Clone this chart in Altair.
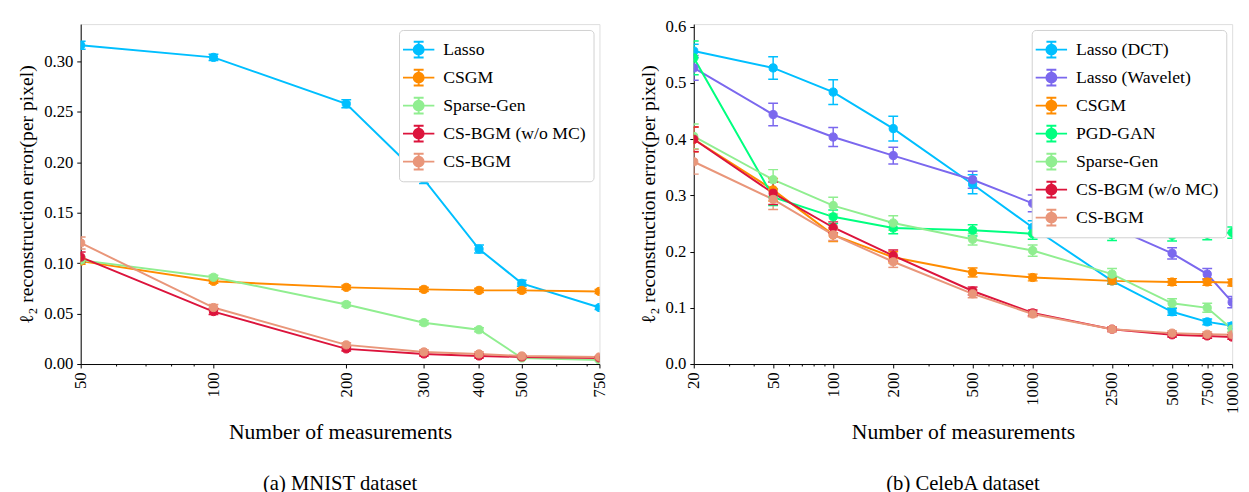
import altair as alt
import pandas as pd

FONT = "Liberation Serif"

# ---------------- MNIST (left) ----------------
mnist_m = [50, 100, 200, 300, 400, 500, 750]
mnist_series = ["Lasso", "CSGM", "Sparse-Gen", "CS-BGM (w/o MC)", "CS-BGM"]
mnist_colors = ["#00bfff", "#ff8c00", "#90ee90", "#dc143c", "#e9967a"]
mnist_lasso = [0.316, 0.304, 0.258, 0.183, 0.114, 0.080, 0.056]
mnist_lasso_err = [0.004, 0.003, 0.004, 0.004, 0.004, 0.003, 0.002]
mnist_csgm = [0.102, 0.082, 0.076, 0.074, 0.073, 0.073, 0.072]
mnist_csgm_err = [0.003, 0.002, 0.002, 0.002, 0.002, 0.002, 0.002]
mnist_sparse = [0.103, 0.086, 0.059, 0.041, 0.034, 0.006, 0.004]
mnist_sparse_err = [0.003, 0.002, 0.002, 0.002, 0.002, 0.001, 0.001]
mnist_bgm_womc = [0.106, 0.052, 0.015, 0.010, 0.008, 0.007, 0.006]
mnist_bgm_womc_err = [0.005, 0.003, 0.002, 0.002, 0.002, 0.001, 0.001]
mnist_bgm = [0.120, 0.056, 0.019, 0.012, 0.010, 0.008, 0.007]
mnist_bgm_err = [0.006, 0.003, 0.002, 0.002, 0.002, 0.001, 0.001]
mnist_xticks = [50, 100, 200, 300, 400, 500, 750]
mnist_minor = [60, 70, 80, 90, 600, 700]
mnist_yticks = [0.0, 0.05, 0.10, 0.15, 0.20, 0.25, 0.30]

# ---------------- CelebA (right) ----------------
celeba_m = [20, 50, 100, 200, 500, 1000, 2500, 5000, 7500, 10000]
celeba_series = ["Lasso (DCT)", "Lasso (Wavelet)", "CSGM", "PGD-GAN",
                 "Sparse-Gen", "CS-BGM (w/o MC)", "CS-BGM"]
celeba_colors = ["#00bfff", "#7b68ee", "#ff8c00", "#00ff7f",
                 "#90ee90", "#dc143c", "#e9967a"]
celeba_dct = [0.557, 0.527, 0.484, 0.419, 0.320, 0.243, 0.148, 0.093, 0.075, 0.068]
celeba_dct_err = [0.012, 0.020, 0.022, 0.022, 0.017, 0.012, 0.006, 0.006, 0.005, 0.005]
celeba_wav = [0.527, 0.444, 0.404, 0.371, 0.328, 0.286, 0.244, 0.197, 0.160, 0.110]
celeba_wav_err = [0.022, 0.020, 0.017, 0.015, 0.015, 0.015, 0.012, 0.010, 0.010, 0.010]
celeba_csgm = [0.400, 0.310, 0.230, 0.190, 0.163, 0.154, 0.148, 0.146, 0.146, 0.145]
celeba_csgm_err = [0.022, 0.020, 0.012, 0.010, 0.008, 0.006, 0.005, 0.006, 0.006, 0.006]
celeba_pgd = [0.545, 0.297, 0.262, 0.242, 0.238, 0.232, 0.230, 0.229, 0.231, 0.234]
celeba_pgd_err = [0.030, 0.015, 0.012, 0.010, 0.010, 0.010, 0.010, 0.010, 0.010, 0.010]
celeba_sparse = [0.405, 0.328, 0.282, 0.251, 0.222, 0.202, 0.160, 0.108, 0.100, 0.062]
celeba_sparse_err = [0.022, 0.018, 0.015, 0.013, 0.010, 0.010, 0.010, 0.008, 0.008, 0.005]
celeba_bgm_womc = [0.400, 0.304, 0.243, 0.193, 0.130, 0.091, 0.062, 0.052, 0.050, 0.048]
celeba_bgm_womc_err = [0.022, 0.020, 0.010, 0.010, 0.007, 0.005, 0.004, 0.004, 0.004, 0.004]
celeba_bgm = [0.360, 0.293, 0.230, 0.182, 0.125, 0.089, 0.062, 0.055, 0.053, 0.052]
celeba_bgm_err = [0.022, 0.018, 0.010, 0.010, 0.007, 0.005, 0.004, 0.004, 0.004, 0.004]
celeba_xticks = [20, 50, 100, 200, 500, 1000, 2500, 5000, 7500, 10000]
celeba_minor = [30, 40, 60, 70, 80, 90, 300, 400, 600, 700, 800, 900,
                2000, 3000, 4000, 6000, 7000, 8000, 9000]
celeba_yticks = [0.0, 0.1, 0.2, 0.3, 0.4, 0.5, 0.6]


def frame(ms, names, vals, errs):
    rows = []
    for name, v, e in zip(names, vals, errs):
        for m, y, d in zip(ms, v, e):
            rows.append({"m": m, "value": y, "lo": y - d, "hi": y + d,
                         "series": name})
    return pd.DataFrame(rows)


mnist_df = frame(mnist_m, mnist_series,
                 [mnist_lasso, mnist_csgm, mnist_sparse, mnist_bgm_womc, mnist_bgm],
                 [mnist_lasso_err, mnist_csgm_err, mnist_sparse_err,
                  mnist_bgm_womc_err, mnist_bgm_err])
celeba_df = frame(celeba_m, celeba_series,
                  [celeba_dct, celeba_wav, celeba_csgm, celeba_pgd, celeba_sparse,
                   celeba_bgm_womc, celeba_bgm],
                  [celeba_dct_err, celeba_wav_err, celeba_csgm_err, celeba_pgd_err,
                   celeba_sparse_err, celeba_bgm_womc_err, celeba_bgm_err])

LEG_PATH = ("M-1.33,0H1.33M0,-0.67V0.67M-0.42,-0.67H0.42M-0.42,0.67H0.42"
            "M-0.42,0A0.42,0.42,0,1,0,0.42,0A0.42,0.42,0,1,0,-0.42,0Z")


def panel(df, names, colors, xdom, xticks, minor, ydom, yticks, yfmt,
          width, height, caption):
    legend = alt.Legend(
        title=None, orient="top-right", offset=6,
        symbolType=LEG_PATH, symbolSize=576, symbolStrokeWidth=2,
        symbolFillColor="white",
        labelFont=FONT, labelFontSize=18, labelColor="black", labelOffset=12,
        rowPadding=2.5, padding=7, strokeColor="#d0d0d0", fillColor="white",
        cornerRadius=4, labelLimit=300,
    )
    sc = alt.Scale(domain=names, range=colors)
    stroke = alt.Stroke("series:N", scale=sc, legend=legend, sort=names)
    fill = alt.Fill("series:N", scale=sc, legend=legend, sort=names)
    xs = alt.Scale(type="log", domain=xdom, nice=False)
    ys = alt.Scale(domain=ydom, nice=False, zero=False)
    xaxis = alt.Axis(values=xticks, format="d", labelAngle=270, labelFont=FONT,
                     labelFontSize=17, labelColor="black", labelPadding=4,
                     labelFlush=False, labelOverlap=False, labelBound=False,
                     tickSize=4, tickColor="black", tickWidth=1,
                     domainColor="black", grid=False,
                     title="Number of measurements", titleFont=FONT,
                     titleFontSize=22, titleFontWeight="normal",
                     titleColor="black", titleY=59)
    yaxis = alt.Axis(values=yticks, format=yfmt, labelFont=FONT,
                     labelFontSize=17, labelColor="black", labelPadding=4,
                     tickSize=4, tickColor="black", domainColor="black",
                     grid=False, labelFlush=False,
                     title="ℓ₂ reconstruction error(per pixel)", titleFont=FONT,
                     titleFontSize=20, titleFontWeight="normal",
                     titleColor="black", titlePadding=7)
    minor_axis = alt.Axis(values=minor, labels=False, tickSize=2,
                          tickColor="black", domain=False, grid=False,
                          title=None, orient="bottom")
    base = alt.Chart(df)
    x_main = alt.X("m:Q", scale=xs, axis=xaxis)
    x = alt.X("m:Q", scale=xs, axis=None)
    line = base.mark_line(strokeWidth=2, clip=True).encode(
        x=x_main, y=alt.Y("value:Q", scale=ys, axis=yaxis), stroke=stroke,
        order="m:Q")
    rule = base.mark_rule(strokeWidth=1.5, clip=True).encode(
        x=x, y="lo:Q", y2="hi:Q", stroke=stroke)
    cap_lo = base.mark_point(shape="M-1,0H1", size=100, strokeWidth=1.5,
                             opacity=1, clip=True).encode(
        x=x, y="lo:Q", stroke=stroke)
    cap_hi = base.mark_point(shape="M-1,0H1", size=100, strokeWidth=1.5,
                             opacity=1, clip=True).encode(
        x=x, y="hi:Q", stroke=stroke)
    pts = base.mark_point(shape="circle", size=70, filled=True, opacity=1,
                          strokeWidth=1, clip=True).encode(
        x=x, y="value:Q", fill=fill, stroke=stroke)
    minor_layer = base.mark_point(opacity=0).encode(
        x=alt.X("m:Q", scale=xs, axis=minor_axis), y="value:Q")
    return alt.layer(line, rule, cap_lo, cap_hi, pts, minor_layer).resolve_axis(
        x="independent").properties(
        width=width, height=height,
        title=alt.TitleParams(caption, orient="bottom", font=FONT, fontSize=21,
                              fontWeight="normal", color="black", offset=31,
                              anchor="middle"))


left = panel(mnist_df, mnist_series, mnist_colors, [50, 750], mnist_xticks,
             mnist_minor, [0, 0.337], mnist_yticks, ".2f", 528, 346,
             "(a)  MNIST dataset")
right = panel(celeba_df, celeba_series, celeba_colors, [20, 10000], celeba_xticks,
              celeba_minor, [0, 0.605], celeba_yticks, ".1f", 548, 346,
              "(b)  CelebA dataset")

chart = alt.hconcat(left, right, spacing=30).resolve_scale(
    stroke="independent", fill="independent").resolve_legend(
    stroke="independent", fill="independent").properties(
    padding={"left": 8, "top": 5, "right": 0, "bottom": 0}
).configure_view(stroke="black", strokeWidth=1.2).configure(background="white")

chart.save("out.html", embed_options={"renderer": "svg", "actions": False})
